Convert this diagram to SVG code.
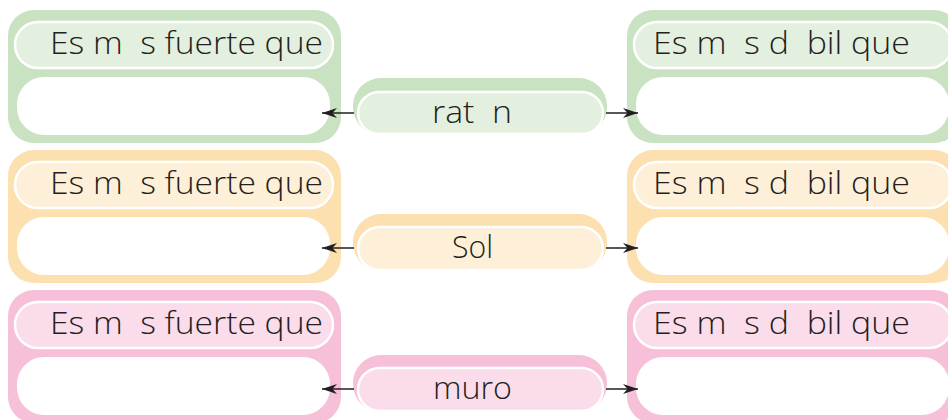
<svg xmlns="http://www.w3.org/2000/svg" width="948" height="420" viewBox="0 0 948 420" xml:space="preserve">
<defs>
<style>
text{font-family:"Open Sans","Liberation Sans",Arial,sans-serif;font-weight:300;font-size:30.5px;fill:#231f20;white-space:pre}
.hdr{stroke:#ffffff;stroke-width:2.5}
.body{fill:#ffffff}
.g .o{fill:#c8e2c2}.g .h{fill:#e3f0df}
.y .o{fill:#fde0b0}.y .h{fill:#feefd9}
.p .o{fill:#f6c0d9}.p .h{fill:#fbdcea}
.conn line{stroke:#231f20;stroke-width:1.5}
</style>
<marker id="ah" markerWidth="17" markerHeight="12" refX="15" refY="6" orient="auto-start-reverse" markerUnits="userSpaceOnUse">
<path d="M0,1 L15,6 L0,11 L4.5,6 Z" fill="#231f20"/>
</marker>
</defs>
<rect width="948" height="420" fill="#ffffff"/>
<g id="mas-fuerte-raton" class="g">
<rect class="o" x="8" y="10" width="333" height="133" rx="26"/>
<rect class="h hdr" x="15" y="22" width="318" height="46" rx="23"/>
<rect class="body" x="17" y="77" width="313" height="58" rx="27"/>
<text x="50" y="54" textLength="273" lengthAdjust="spacingAndGlyphs">Es m  s fuerte que</text>
</g>
<g id="raton" class="g">
<rect class="o" x="353" y="78" width="254" height="57" rx="28"/>
<rect class="h hdr" x="358" y="92" width="245" height="42" rx="21"/>
<text x="432" y="123" textLength="80" lengthAdjust="spacingAndGlyphs">rat  n</text>
</g>
<g id="mas-debil-raton" class="g">
<rect class="o" x="627" y="10" width="333" height="133" rx="26"/>
<rect class="h hdr" x="634" y="22" width="318" height="46" rx="23"/>
<rect class="body" x="636" y="77" width="313" height="58" rx="27"/>
<text x="653" y="54" textLength="257" lengthAdjust="spacingAndGlyphs">Es m  s d  bil que</text>
</g>
<g id="mas-fuerte-sol" class="y">
<rect class="o" x="8" y="150" width="333" height="133" rx="26"/>
<rect class="h hdr" x="15" y="162" width="318" height="46" rx="23"/>
<rect class="body" x="17" y="217" width="313" height="58" rx="27"/>
<text x="50" y="194" textLength="273" lengthAdjust="spacingAndGlyphs">Es m  s fuerte que</text>
</g>
<g id="sol" class="y">
<rect class="o" x="353" y="214" width="254" height="57" rx="28"/>
<rect class="h hdr" x="358" y="227" width="245" height="43" rx="21.5"/>
<text x="452" y="258" textLength="41" lengthAdjust="spacingAndGlyphs">Sol</text>
</g>
<g id="mas-debil-sol" class="y">
<rect class="o" x="627" y="150" width="333" height="133" rx="26"/>
<rect class="h hdr" x="634" y="162" width="318" height="46" rx="23"/>
<rect class="body" x="636" y="217" width="313" height="58" rx="27"/>
<text x="653" y="194" textLength="257" lengthAdjust="spacingAndGlyphs">Es m  s d  bil que</text>
</g>
<g id="mas-fuerte-muro" class="p">
<rect class="o" x="8" y="290" width="333" height="133" rx="26"/>
<rect class="h hdr" x="15" y="302" width="318" height="46" rx="23"/>
<rect class="body" x="17" y="357" width="313" height="58" rx="27"/>
<text x="50" y="334" textLength="273" lengthAdjust="spacingAndGlyphs">Es m  s fuerte que</text>
</g>
<g id="muro" class="p">
<rect class="o" x="353" y="355" width="254" height="57" rx="28"/>
<rect class="h hdr" x="358" y="368" width="245" height="43" rx="21.5"/>
<text x="433" y="399" textLength="79" lengthAdjust="spacingAndGlyphs">muro</text>
</g>
<g id="mas-debil-muro" class="p">
<rect class="o" x="627" y="290" width="333" height="133" rx="26"/>
<rect class="h hdr" x="634" y="302" width="318" height="46" rx="23"/>
<rect class="body" x="636" y="357" width="313" height="58" rx="27"/>
<text x="653" y="334" textLength="257" lengthAdjust="spacingAndGlyphs">Es m  s d  bil que</text>
</g>
<g id="connectors" class="conn">
<line x1="354" y1="113" x2="322" y2="113" marker-end="url(#ah)"/>
<line x1="606" y1="113" x2="638" y2="113" marker-end="url(#ah)"/>
<line x1="354" y1="248" x2="322" y2="248" marker-end="url(#ah)"/>
<line x1="606" y1="248" x2="638" y2="248" marker-end="url(#ah)"/>
<line x1="354" y1="389" x2="322" y2="389" marker-end="url(#ah)"/>
<line x1="606" y1="389" x2="638" y2="389" marker-end="url(#ah)"/>
</g>
</svg>
